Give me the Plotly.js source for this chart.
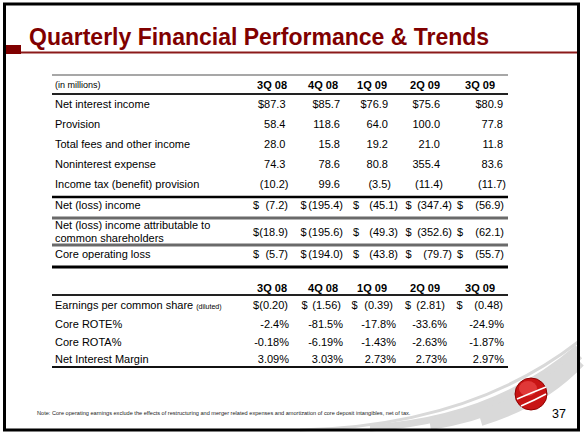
<!DOCTYPE html>
<html><head><meta charset="utf-8">
<script src="https://cdn.plot.ly/plotly-3.0.1.min.js"></script>
<style>html,body{margin:0;padding:0;background:#fff;}#chart{width:584px;height:438px;}</style>
</head><body><div id="chart"></div>
<script>
// ---- data ----
const quarters = ['3Q 08', '4Q 08', '1Q 09', '2Q 09', '3Q 09'];
const upperLabels = ['Net interest income', 'Provision', 'Total fees and other income', 'Noninterest expense', 'Income tax (benefit) provision'];
const netInterestIncome = [87.3, 85.7, 76.9, 75.6, 80.9];
const provision = [58.4, 118.6, 64.0, 100.0, 77.8];
const totalFeesOtherIncome = [28.0, 15.8, 19.2, 21.0, 11.8];
const noninterestExpense = [74.3, 78.6, 80.8, 355.4, 83.6];
const incomeTaxProvision = [-10.2, 99.6, -3.5, -11.4, -11.7];
const middleLabels = ['Net (loss) income', 'Net (loss) income attributable to<br>common shareholders', 'Core operating loss'];
const netLossIncome = [-7.2, -195.4, -45.1, -347.4, -56.9];
const netLossCommon = [-18.9, -195.6, -49.3, -352.6, -62.1];
const coreOperatingLoss = [-5.7, -194.0, -43.8, -79.7, -55.7];
const lowerLabels = ['Earnings per common share <span style="font-size:7px">(diluted)</span>', 'Core ROTE%', 'Core ROTA%', 'Net Interest Margin'];
const epsDiluted = [-0.20, -1.56, -0.39, -2.81, -0.48];
const coreROTE = [-2.4, -81.5, -17.8, -33.6, -24.9];
const coreROTA = [-0.18, -6.19, -1.43, -2.63, -1.87];
const netInterestMargin = [3.09, 3.03, 2.73, 2.73, 2.97];
const unitsNote = '(in millions)';
const titleText = 'Quarterly Financial Performance & Trends';
const footNote = 'Note: Core operating earnings exclude the effects of restructuring and merger related expenses and amortization of core deposit intangibles, net of tax.';
const pageNumber = '37';

// ---- layout constants (pixel-mapped axes) ----
const FONT = '"Liberation Sans", Arial, sans-serif';
const LABEL_X = 55;
const DY = 1.5;
const upperY = [104, 124, 144, 164, 184].map(y => y + DY);
const upperRight = [288.5, 343, 391, 443, 506];
const headRight = [287, 338, 387, 440, 495];
const middleY = [205, 231.5, 254].map(y => y + DY);
const LINE_GAP = 13;
const midDollar = [253, 300.5, 353, 405.5, 457];
const midRight = [288, 343, 398, 452, 504];
const lowerY = [305, 323.5, 342, 358.5].map(y => y + DY);
const epsDollar = [253, 301.5, 351.5, 405, 456.5];
const epsRight = [288, 341, 393, 445, 503];
const pctRight = [289, 343, 396, 447, 504];

function acct(v, d) { return v < 0 ? '(' + Math.abs(v).toFixed(d) + ')' : v.toFixed(d); }

const traces = [];

function textTrace(xs, ys, texts, pos, size) {
  traces.push({type: 'scatter', mode: 'text', x: xs, y: ys, text: texts, textposition: pos,
    textfont: {family: FONT, size: size, color: '#000'}, hoverinfo: 'skip', showlegend: false, cliponaxis: false});
}

// headers
textTrace(headRight, quarters.map(() => 86), quarters.map(q => '<b>' + q + '</b>'), 'middle left', 11);
textTrace(headRight, quarters.map(() => 289.5), quarters.map(q => '<b>' + q + '</b>'), 'middle left', 11);
textTrace([LABEL_X], [86], [unitsNote], 'middle right', 9);

// upper section
const upperRows = [netInterestIncome, provision, totalFeesOtherIncome, noninterestExpense, incomeTaxProvision];
textTrace(upperLabels.map(() => LABEL_X), upperY, upperLabels, 'middle right', 11);
upperRows.forEach((row, i) => {
  textTrace(row.map((v, j) => upperRight[j] - (v < 0 ? 0 : 3)), row.map(() => upperY[i]),
    row.map(v => (i === 0 ? '$' : '') + acct(v, 1)), 'middle left', 11);
});

// middle section (multi-line labels drawn line by line with tight spacing)
const middleRows = [netLossIncome, netLossCommon, coreOperatingLoss];
middleLabels.forEach((lab, i) => {
  const parts = lab.split('<br>');
  const y0 = middleY[i] - (parts.length - 1) * LINE_GAP / 2;
  textTrace(parts.map(() => LABEL_X), parts.map((p, k) => y0 + k * LINE_GAP), parts, 'middle right', 11);
});
middleRows.forEach((row, i) => {
  textTrace(midDollar, row.map(() => middleY[i]), row.map(() => '$'), 'middle right', 11);
  textTrace(row.map((v, j) => midRight[j] - (v < 0 ? 0 : 3)), row.map(() => middleY[i]), row.map(v => acct(v, 1)), 'middle left', 11);
});

// lower section
textTrace(lowerLabels.map(() => LABEL_X), lowerY, lowerLabels, 'middle right', 11);
textTrace(epsDollar, epsDiluted.map(() => lowerY[0]), epsDiluted.map(() => '$'), 'middle right', 11);
textTrace(epsRight, epsDiluted.map(() => lowerY[0]), epsDiluted.map(v => acct(v, 2)), 'middle left', 11);
[[coreROTE, 1], [coreROTA, 2], [netInterestMargin, 2]].forEach(([row, d], k) => {
  textTrace(pctRight, row.map(() => lowerY[k + 1]), row.map(v => v.toFixed(d) + '%'), 'middle left', 11);
});

// ---- shapes ----
function hline(y, color, w) {
  return {type: 'line', xref: 'x', yref: 'y', x0: 52, x1: 508, y0: y, y1: y, line: {color: color, width: w}};
}
function swoosh(p, w) {
  return {type: 'path', xref: 'x', yref: 'y', path: p, line: {color: '#d9d9d9', width: w}};
}
const shapes = [
  // decorative swoosh behind the logo (stroked open curves of growing width)
  swoosh('M 300 430 Q 470 426 578 342', 3),
  swoosh('M 370 428 Q 495 420 578 348', 7),
  swoosh('M 430 424 Q 520 410 578 354', 12),
  swoosh('M 480 418 Q 540 400 578 360', 16),
  // title rule
  {type: 'line', xref: 'x', yref: 'y', x0: 21, x1: 578, y0: 52.5, y1: 52.5, line: {color: '#8b1a1a', width: 2}},
  {type: 'rect', xref: 'x', yref: 'y', x0: 4.5, x1: 21, y0: 45, y1: 54, fillcolor: '#800000', line: {width: 0}},
  hline(75, '#8a8a8a', 1.5),
  hline(94, '#222', 2),
  hline(197, '#000', 2.5),
  hline(218, '#6a6a6a', 3),
  hline(245, '#6a6a6a', 3),
  hline(267, '#000', 3),
  hline(295, '#222', 2),
  hline(367, '#111', 2),
  // ball
  {type: 'circle', xref: 'x', yref: 'y', x0: 515, x1: 547, y0: 378, y1: 410, fillcolor: '#c81414', line: {color: '#8e0000', width: 1}},
  {type: 'circle', xref: 'x', yref: 'y', x0: 519, x1: 537, y0: 381, y1: 396, fillcolor: 'rgba(240,80,80,0.6)', line: {width: 0}},
  {type: 'path', xref: 'x', yref: 'y', path: 'M 517 399 Q 531 393 546 387', line: {color: '#fff', width: 1.6}},
  {type: 'path', xref: 'x', yref: 'y', path: 'M 521 406 Q 535 400 546 394', line: {color: '#fff', width: 1.6}},
  // frame
  {type: 'rect', xref: 'x', yref: 'y', x0: 4.5, x1: 578.5, y0: 4, y1: 430, line: {color: '#000', width: 3}},
];

const annotations = [
  {xref: 'x', yref: 'y', x: 27, y: 37, xanchor: 'left', yanchor: 'middle', showarrow: false,
   text: '<b>' + titleText + '</b>', font: {family: FONT, size: 23, color: '#800000'}},
  {xref: 'x', yref: 'y', x: 35, y: 413, xanchor: 'left', yanchor: 'middle', showarrow: false,
   text: footNote, font: {family: FONT, size: 5.6, color: '#222'}},
  {xref: 'x', yref: 'y', x: 559, y: 414, xanchor: 'center', yanchor: 'middle', showarrow: false,
   text: pageNumber, font: {family: FONT, size: 12.5, color: '#000'}},
];

const layout = {
  width: 584, height: 438, margin: {l: 0, r: 0, t: 0, b: 0},
  paper_bgcolor: '#fff', plot_bgcolor: 'rgba(0,0,0,0)',
  xaxis: {range: [0, 584], visible: false, fixedrange: true},
  yaxis: {range: [438, 0], visible: false, fixedrange: true},
  shapes: shapes, annotations: annotations, showlegend: false
};
Plotly.newPlot('chart', traces, layout, {displayModeBar: false, staticPlot: true});
</script></body></html>
